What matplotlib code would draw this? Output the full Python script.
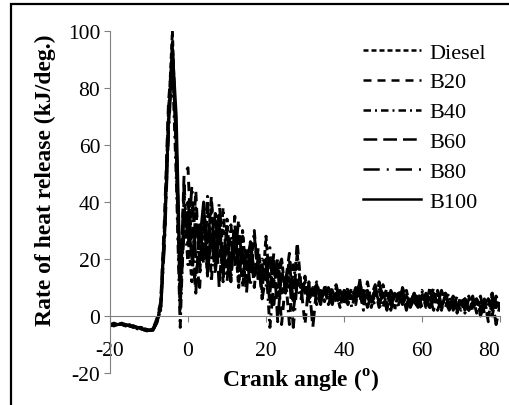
import numpy as np
import matplotlib
matplotlib.use('Agg')
import matplotlib.pyplot as plt
from matplotlib.patches import Rectangle

plt.rcParams['font.family'] = 'Liberation Serif'
plt.rcParams['mathtext.fontset'] = 'custom'
plt.rcParams['mathtext.rm'] = 'Liberation Serif'
plt.rcParams['mathtext.bf'] = 'Liberation Serif:bold'
plt.rcParams['axes.unicode_minus'] = False

# crank angle grid, one point per degree
angle = np.arange(-20, 81)

diesel = [-3, -3, -2.5, -3, -3, -3.5, -3.5, -4, -4, -4.5,
          -5, -5, -2, 3, 30, 70, 100, 55, 2, 42,
          28, 12, 38, 18, 34, 14, 40, 16, 30, 12,
          34, 14, 28, 10, 30, 12, 26, 15, 22, 8,
          28, 10, 18, 6, 20, 8, 16, 5, 22, 8,
          12, 6, 10, 4, 9, 5, 10, 6, 8, 3,
          9, 5, 8, 4, 12, 6, 7, 3, 9, 5,
          11, 4, 8, 3, 7, 6, 9, 3, 6, 4,
          8, 3, 10, 5, 6, 2, 8, 4, 7, 1,
          6, 3, 7, 2, 6, 1, 5, -1, 8, 3, 5]
b20 = [-3, -2.5, -3, -3, -3.5, -3, -4, -4, -4.5, -4.5,
       -5, -4.5, -1, 5, 35, 75, 92, 60, 8, 50,
       52, 20, 44, 15, 36, 22, 42, 18, 36, 14,
       30, 16, 35, 12, 28, 20, 25, 10, 24, 12,
       20, 4, 14, 18, -3, 12, 22, 6, 26, 10,
       -3, 12, 8, 10, 6, 9, 5, 10, 7, 4,
       8, 6, 10, 5, 13, 4, 8, 6, 9, 3,
       5, 10, 2, 8, 6, 9, 4, 7, 5, 8,
       3, 7, 5, 10, 2, 6, 8, 3, 6, 4,
       2, 6, 4, 7, 1, 5, 3, 6, 0, 7, 3]
b40 = [-3.5, -3, -3, -3.5, -3, -3.5, -4, -4, -4.5, -5,
       -5, -4.5, -1.5, 4, 32, 72, 88, 48, -4, 38,
       18, 40, 10, 30, 22, 42, 12, 34, 20, 38,
       15, 32, 18, 28, 10, 24, 16, 30, 12, 20,
       18, -4, 12, 20, 8, 14, -3, 18, 10, 6,
       14, 4, 8, 12, 6, 10, 4, 8, 11, 5,
       6, 10, 3, 8, 9, 2, 12, 5, 7, 10,
       3, 8, 6, 2, 9, 5, 8, 3, 7, 6,
       9, 4, 6, 2, 8, 5, 3, 7, 2, 6,
       5, 1, 6, 3, 5, 2, 6, -2, 5, 4, 2]
b60 = [-3, -3, -3, -3, -3.5, -3.5, -3.5, -4, -4.5, -5,
       -5.5, -5, -2, 2, 28, 66, 96, 58, 5, 30,
       40, 25, 8, 32, 18, 38, 24, 36, 10, 30,
       28, 12, 32, 18, 22, 8, 26, 14, 20, 6,
       14, 8, 22, -2, 16, 10, 20, 2, 12, 14,
       8, 12, -4, 10, 6, 9, 7, 4, 10, 6,
       4, 8, 6, 10, 5, 9, 3, 7, 11, 4,
       8, 2, 9, 6, 4, 8, 2, 7, 5, 3,
       7, 5, 3, 8, 4, 9, 5, 2, 6, 3,
       7, 2, 5, 4, 6, 0, 4, 3, 6, -3, 4]
b80 = [-3, -3.5, -3, -3, -3, -3.5, -4, -4.5, -4.5, -5,
       -5, -5, -2.5, 2, 26, 64, 90, 62, 10, 46,
       24, 46, 20, 10, 38, 26, 30, 14, 40, 22,
       12, 26, 20, 34, 14, 22, 10, 28, 16, 18,
       10, 24, 4, 16, 20, 8, 14, -4, 12, 10,
       12, 6, 10, 8, 4, 11, 7, 9, 5, 8,
       10, 4, 9, 6, 8, 3, 9, 6, 4, 12,
       6, 9, 4, 7, 3, 10, 6, 4, 8, 2,
       4, 8, 6, 3, 9, 4, 6, 8, 3, 7,
       3, 6, 2, 5, 4, 7, 1, 5, 8, 2, 6]
b100 = [-3, -3, -3, -2.5, -3, -3.5, -3.5, -4, -4.5, -5,
        -5, -5, -2, 3, 30, 68, 94, 70, 12, 35,
        35, 20, 30, 26, 40, 15, 28, 22, 32, 18,
        24, 20, 28, 16, 22, 18, 20, 14, 18, 12,
        16, 14, 12, 10, 14, 12, 10, 11, 12, 10,
        10, 7, 9, 11, 6, 8, 10, 6, 8, 9,
        5, 9, 6, 8, 10, 5, 8, 6, 9, 5,
        7, 8, 4, 7, 8, 4, 7, 5, 8, 4,
        6, 7, 3, 6, 5, 3, 7, 4, 6, 2,
        5, 6, 2, 5, 6, 3, 4, 6, 2, 5, 3]

labels = ['Diesel', 'B20', 'B40', 'B60', 'B80', 'B100']
series = [diesel, b20, b40, b60, b80, b100]
dashes = [(2, 1.2), (3.2, 2.4), (3, 1.6, 0.8, 1.6), (5.5, 2.4),
          (6.5, 2.8, 0.8, 2.8), ()]

fig = plt.figure(figsize=(5.1, 4.06), dpi=100)
ax = fig.add_axes([110 / 510, 32 / 406, 390 / 510, 342 / 406])

for name, vals, ds in zip(labels, series, dashes):
    line, = ax.plot(angle, vals, color='black', lw=2.1, label=name)
    if ds:
        line.set_dashes(ds)

ax.set_xlim(-20, 80)
ax.set_ylim(-20, 100)
ax.set_xticks([-20, 0, 20, 40, 60, 80])
ax.set_yticks([-20, 0, 20, 40, 60, 80, 100])

grey = '#808080'
for s in ['top', 'right']:
    ax.spines[s].set_visible(False)
ax.spines['left'].set_color(grey)
ax.spines['bottom'].set_color(grey)
ax.spines['bottom'].set_position(('data', 0))
ax.tick_params(axis='both', colors=grey, labelcolor='black', labelsize=15.5,
               length=4, direction='out')
ax.tick_params(axis='x', pad=14)
ax.tick_params(axis='y', pad=3)
# the last label sits a bit left of its tick, as in the source
ax.get_xticklabels()[-1].set_horizontalalignment('right')
ax.get_xticklabels()[-1].set_x(80)

fig.text(45 / 510, 1 - 180 / 406, 'Rate of heat release (kJ/deg.)',
         rotation=90, ha='center', va='center', fontsize=17, fontweight='bold')
fig.text(301 / 510, 1 - 381 / 406, r'Crank angle ($^{\mathbf{o}}$)',
         ha='center', va='center', fontsize=17, fontweight='bold')

leg = ax.legend(loc='upper left', bbox_to_anchor=(363 / 510, 1 - 43 / 406),
                bbox_transform=fig.transFigure, frameon=False, fontsize=16,
                handlelength=2.6, handletextpad=0.4, labelspacing=0.42,
                borderpad=0, borderaxespad=0)
for h in leg.get_lines():
    h.set_linewidth(1.8)

# outer frame (left and top edges visible)
fig.patches.append(Rectangle((11 / 510, -0.1), 1.1, 1.1 - 5 / 406,
                             transform=fig.transFigure, fill=False,
                             edgecolor='black', lw=1.6))

fig.savefig('out.png', dpi=100)
